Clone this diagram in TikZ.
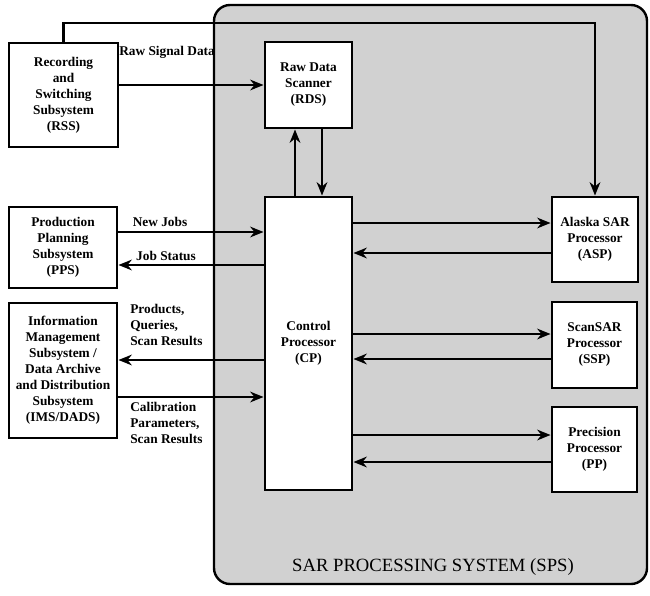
\documentclass[tikz,border=0pt]{standalone}
\usepackage{fontspec}
\setmainfont{Liberation Serif}
\usetikzlibrary{arrows.meta}
\begin{document}
\begin{tikzpicture}[x=0.75pt,y=-0.75pt,
  box/.style={draw, line width=2.2pt, fill=white, inner sep=0pt,
    font=\bfseries\fontsize{10}{12}\selectfont, align=center},
  conn/.style={line width=2.2pt, -{Stealth[length=10pt,width=8pt]}},
  lbl/.style={font=\bfseries\fontsize{10}{12}\selectfont, inner sep=0pt, align=left},
  sps/.style={draw, line width=1.8pt, fill=black!18, rounded corners=12pt}]
\useasboundingbox (0,0) rectangle (650,596);
\draw[sps] (214,5) rectangle (647,584);
\node[font=\fontsize{14}{16}\selectfont] (spslabel) at (433,567) {SAR PROCESSING SYSTEM (SPS)};

\node[box, minimum width=81.75pt, minimum height=78pt] (rss) at (63.5,95)
  {Recording\\and\\Switching\\Subsystem\\(RSS)};
\node[box, minimum width=65.25pt, minimum height=64.5pt] (rds) at (308.5,85)
  {Raw Data\\Scanner\\(RDS)};
\node[box, minimum width=81pt, minimum height=60.75pt] (pps) at (63,247.5)
  {Production\\Planning\\Subsystem\\(PPS)};
\node[box, minimum width=81pt, minimum height=101.25pt] (ims) at (63,370.5)
  {Information\\Management\\Subsystem /\\Data Archive\\and Distribution\\Subsystem\\(IMS/DADS)};
\node[box, minimum width=65.25pt, minimum height=219.75pt] (cp) at (308.5,343.5)
  {Control\\Processor\\(CP)};
\node[box, minimum width=64.5pt, minimum height=63.75pt] (asp) at (595,239.5)
  {Alaska SAR\\Processor\\(ASP)};
\node[box, minimum width=63.75pt, minimum height=64.5pt] (ssp) at (594.5,345)
  {ScanSAR\\Processor\\(SSP)};
\node[box, minimum width=63.75pt, minimum height=63.75pt] (pp) at (594.5,449.5)
  {Precision\\Processor\\(PP)};

% RSS connections
\draw[conn] (rss.north) |- (asp.north |- 0,23) -- (asp.north);
\draw[conn] (rss.east |- 0,85) -- (rds.west |- 0,85);
\node[lbl, anchor=west] (rsd) at (119,52) {Raw Signal Data};

% RDS <-> CP
\draw[conn] (cp.north -| 295,0) -- (rds.south -| 295,0);
\draw[conn] (rds.south -| 322,0) -- (cp.north -| 322,0);

% PPS <-> CP
\draw[conn] (pps.east |- 0,232) -- (cp.west |- 0,232);
\draw[conn] (cp.west |- 0,265) -- (pps.east |- 0,265);
\node[lbl, anchor=south] (nj) at (160,227) {New Jobs};
\node[lbl, anchor=south] (js) at (166,261) {Job Status};

% IMS <-> CP
\draw[conn] (cp.west |- 0,360) -- (ims.east |- 0,360);
\draw[conn] (ims.east |- 0,397) -- (cp.west |- 0,397);
\node[lbl, anchor=north west] (pq) at (130,304) {Products,\\Queries,\\Scan Results};
\node[lbl, anchor=north west] (cal) at (130,402) {Calibration\\Parameters,\\Scan Results};

% CP <-> processors
\draw[conn] (cp.east |- 0,223) -- (asp.west |- 0,223);
\draw[conn] (asp.west |- 0,253) -- (cp.east |- 0,253);
\draw[conn] (cp.east |- 0,334) -- (ssp.west |- 0,334);
\draw[conn] (ssp.west |- 0,359) -- (cp.east |- 0,359);
\draw[conn] (cp.east |- 0,435) -- (pp.west |- 0,435);
\draw[conn] (pp.west |- 0,462) -- (cp.east |- 0,462);
\end{tikzpicture}
\end{document}
